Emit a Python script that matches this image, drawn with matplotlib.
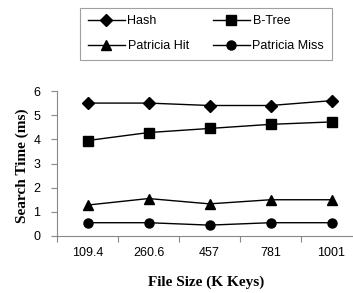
import matplotlib
matplotlib.use("Agg")
import matplotlib.pyplot as plt
from matplotlib.lines import Line2D

categories = ["109.4", "260.6", "457", "781", "1001"]
hash_vals = [5.5, 5.5, 5.4, 5.4, 5.6]
btree_vals = [3.95, 4.28, 4.45, 4.62, 4.72]
pat_hit = [1.28, 1.55, 1.33, 1.5, 1.5]
pat_miss = [0.55, 0.55, 0.45, 0.55, 0.55]
series = [("Hash", hash_vals, "D", 6),
          ("B-Tree", btree_vals, "s", 6.5),
          ("Patricia Hit", pat_hit, "^", 7),
          ("Patricia Miss", pat_miss, "o", 6.5)]

W, H = 353, 293
fig = plt.figure(figsize=(W/100, H/100), dpi=100)
ax = fig.add_axes([57/W, (H-236)/H, (362-57)/W, (236-91)/H])

x = list(range(len(categories)))
for name, vals, m, ms in series:
    ax.plot(x, vals, color="black", lw=1, marker=m, ms=ms, label=name)

ax.set_ylim(0, 6)
ax.set_yticks(range(0, 7))
ax.set_xlim(-0.5, len(categories) - 0.5)
ax.set_xticks([i - 0.5 for i in range(len(categories) + 1)])
ax.set_xticklabels([])
ax.set_xticks(x, minor=True)
ax.set_xticklabels(categories, minor=True, fontfamily="Liberation Sans", fontsize=9)
ax.tick_params(axis="x", which="minor", length=0, pad=8)
ax.tick_params(axis="x", which="major", length=4, color="#888888")
ax.tick_params(axis="y", length=4, color="#888888", pad=8, labelsize=9)
for lab in ax.get_yticklabels():
    lab.set_fontfamily("Liberation Sans")
for s in ["top", "right"]:
    ax.spines[s].set_visible(False)
for s in ["left", "bottom"]:
    ax.spines[s].set_color("#888888")
    ax.spines[s].set_linewidth(0.8)

fig.text(22/W, 1 - 166/H, "Search Time (ms)", rotation=90, ha="center", va="center",
         fontfamily="Liberation Serif", fontweight="bold", fontsize=11)
fig.text(206/W, 1 - 282/H, "File Size (K Keys)", ha="center", va="center",
         fontfamily="Liberation Serif", fontweight="bold", fontsize=11)

handles = [Line2D([], [], color="black", lw=1, marker=m, ms=ms) for _, _, m, ms in series]
labels = [n for n, _, _, _ in series]
order = [0, 2, 1, 3]
leg = fig.legend([handles[i] for i in order], [labels[i] for i in order],
                 ncol=2, loc="upper left", bbox_to_anchor=(80/W, 1 - 8/H),
                 frameon=True, fancybox=False, edgecolor="#888888",
                 prop={"family": "Liberation Sans", "size": 9},
                 handlelength=3.0, handletextpad=0.2, columnspacing=1.9,
                 labelspacing=1.0, borderpad=0.6, borderaxespad=0)
leg.get_frame().set_linewidth(0.8)

fig.savefig("out.png", dpi=100)
